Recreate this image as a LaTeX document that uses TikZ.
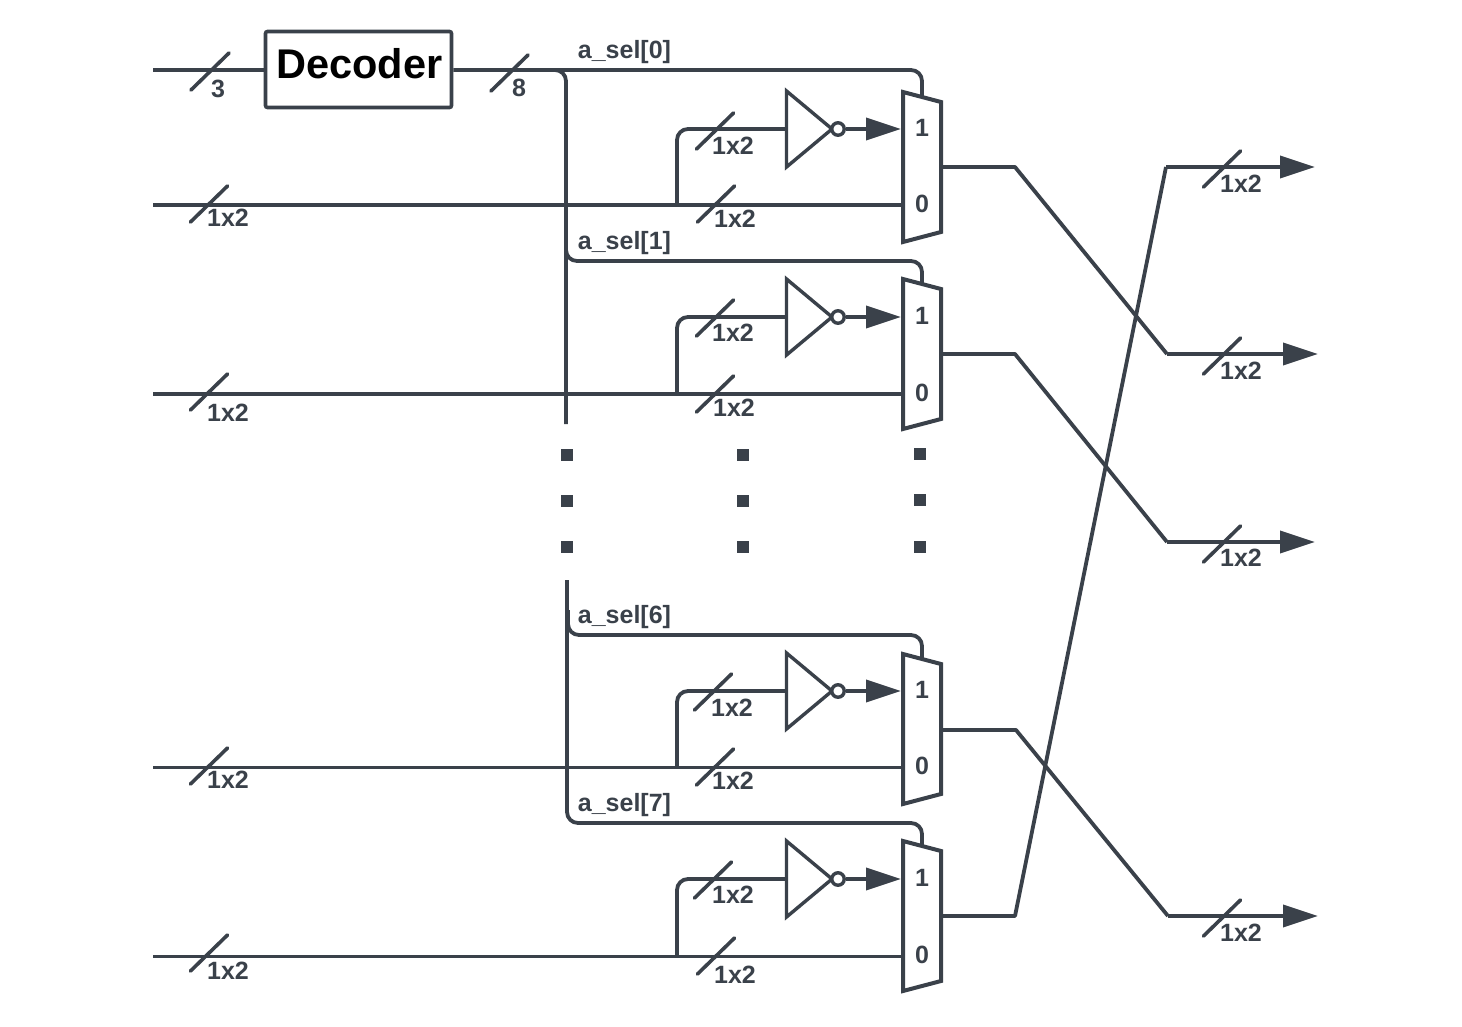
\documentclass[tikz,border=0pt]{standalone}
\usepackage{fontspec}
\setmainfont{Liberation Sans}
\usetikzlibrary{arrows.meta}
\definecolor{ink}{HTML}{3A414A}
\tikzset{
  wire/.style={draw=ink,line width=3.8pt},
  thinwire/.style={draw=ink,line width=3pt},
  curved/.style={wire,rounded corners=11pt},
  tick/.style={draw=ink,line width=3.6pt,line cap=round},
  lab/.style={font=\bfseries\fontsize{25}{27}\selectfont,text=ink,inner sep=0pt,anchor=center},
  muxshape/.style={draw=ink,line width=4pt,fill=white,line join=miter},
  gate/.style={draw=ink,line width=3.4pt,fill=white,line join=miter},
  bubble/.style={circle,draw=ink,line width=3.4pt,fill=white,minimum size=12.5pt,inner sep=0pt},
  arrowed/.style={-{Triangle[length=35pt,width=22pt]}},
  dot/.style={fill=ink,minimum size=12pt,inner sep=0pt,draw=none,rectangle},
  box/.style={draw=ink,line width=3.6pt,rounded corners=2pt,fill=white,minimum width=186pt,minimum height=76pt,inner sep=0pt}
}
\begin{document}
\begin{tikzpicture}[x=1pt,y=-1pt]
\useasboundingbox (0,0) rectangle (1462,1026);
% decoder
\coordinate (din) at (153,70);
\node[box] (dec) at (358.5,69.5) {};
\node[font=\bfseries\fontsize{41.5}{43}\selectfont,text=black,inner sep=0pt] (dectext) at (359.5,64) {Decoder};
\draw[wire] (din) -- (dec.west |- din);
\coordinate (bustop) at (566,70);
\coordinate (busA) at (566,424);
\draw[curved] (dec.east |- din) -- (bustop) -- (busA);
\draw[tick] (191,90) -- (229,53);
\node[lab] (l3) at (218,89) {3};
\draw[tick] (491,91) -- (528,55);
\node[lab] (l8) at (519,88) {8};
% mux units
\foreach \id/\T/\S/\IT/\LO/\W/\Lx/\Ly/\LLx/\LLy/\ULx/\ULy/\USx/\USy/\OSx/\OSy/\Sel/\Bx/\By/\Ls in {
  a/92/70/129/205/wire/228/218/735/219/733/146/715/131/716/204/0/548/70/204,
  b/279/261/317/394/wire/228/413/734/408/733/333/715/318/715/394/1/566/240/392,
  c/654/635/691/767.5/thinwire/228/780/733/781/732/708/713/692/715/767/6/568/610/766,
  d/841/823/879/956/thinwire/228/971/735/975/733/895/713/880/716/956/7/567/580/953}{
  \coordinate (in\id) at (153,\LO);
  \coordinate (branch\id) at (677,\LO);
  \coordinate (up\id) at (677,\IT);
  \coordinate (invL\id) at (786,\IT);
  \coordinate (muxin1\id) at (901,\IT);
  \coordinate (muxin0\id) at (903,\LO);
  \coordinate (selstart\id) at (\Bx,\By);
  \coordinate (selturn\id) at (\Bx+0.01,\S);
  \coordinate (selr\id) at (922,\S);
  \coordinate (sel\id) at (922,\T+4);
  \draw[\W] (in\id) -- (muxin0\id);
  \draw[curved] (branch\id) -- (up\id) -- (invL\id);
  % inverter
  \draw[gate] (786.5,\IT-38) -- (832,\IT) -- (786.5,\IT+38) -- cycle;
  \node[bubble] (bub\id) at (838,\IT) {};
  \draw[wire,arrowed] (bub\id) -- (muxin1\id);
  % mux
  \ifnum\By=70
    \draw[curved] (selstart\id) -- (selr\id) -- (sel\id);
  \else
    \draw[curved] (selstart\id) -- (selturn\id) -- (selr\id) -- (sel\id);
  \fi
  \draw[muxshape] (903,\T) -- (941,\T+10) -- (941,\T+140) -- (903,\T+150) -- cycle;
  \node[lab] (m1\id) at (922,\IT-1) {1};
  \node[lab] (m0\id) at (922,\LO-1.5) {0};
  \node[lab] (s\id) at (624.5,\S-18) {a\_sel[\Sel]};
  % bus width marks
  \draw[tick] (209-18.5,\Ls+18) -- (209+18.5,\Ls-18);
  \node[lab] (ll\id) at (\Lx,\Ly) {1x2};
  \draw[tick] (\OSx-18.5,\OSy+18) -- (\OSx+18.5,\OSy-18);
  \node[lab] (lo\id) at (\LLx,\LLy) {1x2};
  \draw[tick] (\USx-18.5,\USy+18) -- (\USx+18.5,\USy-18);
  \node[lab] (lu\id) at (\ULx,\ULy) {1x2};
}
% dots
\foreach \n/\x/\y in {p1/567/455,p2/567/501,p3/567/547,q1/743/455,q2/743/501,q3/743/547,r1/920/454,r2/920/500,r3/920/547}{
  \node[dot] (\n) at (\x,\y) {};
}
% outputs
\foreach \id/\a/\ay/\bx/\by/\ox/\lx/\ly in {
  oa/1015/167/1167/354/1318/1241/371,
  ob/1015/354/1167/542/1315/1241/558,
  oc/1016/730/1168/916/1318/1241/933,
  od/1015/916/1166/167/1315/1241/184}{
  \coordinate (\id s) at (941,\ay);
  \coordinate (\id k) at (\a,\ay);
  \coordinate (\id j) at (\bx,\by);
  \coordinate (\id e) at (\ox,\by);
  \draw[wire,line join=round] (\id s) -- (\id k) -- (\id j);
  \draw[wire,arrowed] (\id j) -- (\id e);
  \draw[tick] (1222-18.5,\by+20) -- (1222+18.5,\by-16);
  \node[lab] (\id l) at (\lx,\ly) {1x2};
}
\end{tikzpicture}
\end{document}
